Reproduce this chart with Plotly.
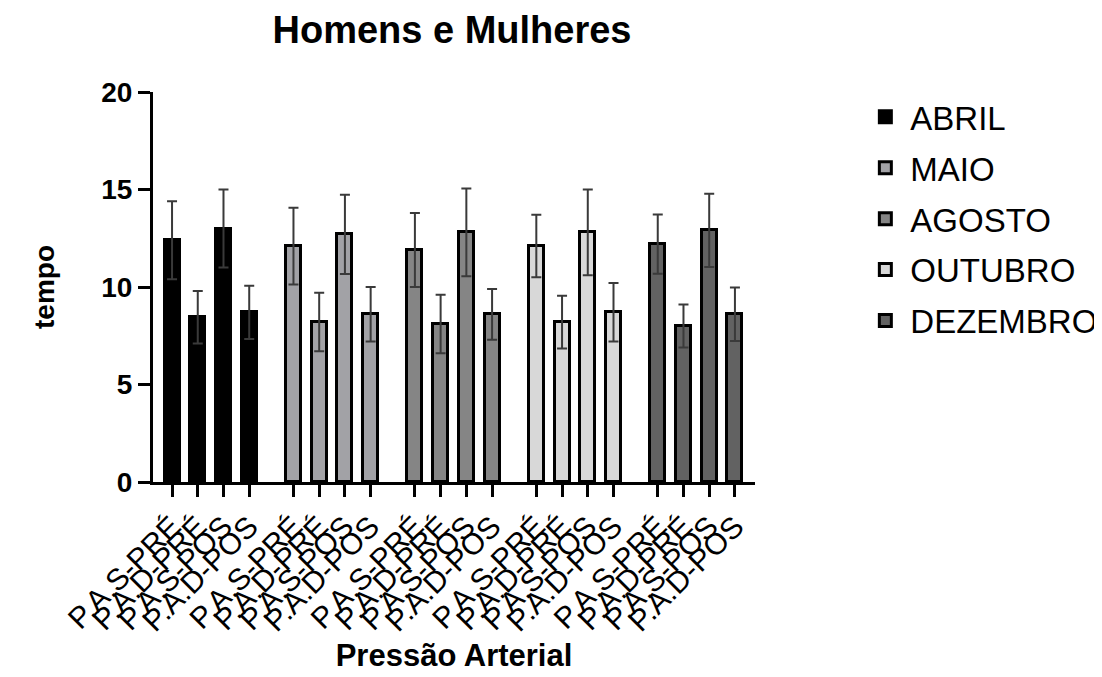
import plotly.graph_objects as go

categories = ["P.A.S-PRÉ", "P.A.D-PRÉ", "P.A.S-POS", "P.A.D-POS"]
months = ["ABRIL", "MAIO", "AGOSTO", "OUTUBRO", "DEZEMBRO"]

abril = [12.4, 8.45, 13.0, 8.7]
abril_err = [2.0, 1.35, 2.0, 1.37]
maio = [12.1, 8.2, 12.7, 8.6]
maio_err = [1.97, 1.5, 2.03, 1.4]
agosto = [11.9, 8.1, 12.8, 8.6]
agosto_err = [1.9, 1.5, 2.25, 1.3]
outubro = [12.1, 8.2, 12.8, 8.7]
outubro_err = [1.6, 1.35, 2.2, 1.5]
dezembro = [12.2, 8.0, 12.9, 8.6]
dezembro_err = [1.52, 1.1, 1.88, 1.37]

values = [abril, maio, agosto, outubro, dezembro]
errors = [abril_err, maio_err, agosto_err, outubro_err, dezembro_err]
fills = ["#000000", "#a2a2a6", "#858585", "#d8d8d8", "#626262"]

FONT = "Liberation Sans, Arial, sans-serif"
group_step = 4.72
n = len(categories)

fig = go.Figure()
tickvals, ticktext = [], []
for g, (m, vals, errs, col) in enumerate(zip(months, values, errors, fills)):
    xs = [g * group_step + i for i in range(n)]
    tickvals += xs
    ticktext += categories
    fig.add_trace(go.Bar(
        x=xs, y=vals, name=m, width=0.58,
        marker=dict(color=col, line=dict(color="black", width=3)),
        error_y=dict(type="data", array=errs, visible=True, color="#3a3a3a",
                     thickness=2, width=5),
        legendgroup=m,
    ))

fig.update_layout(
    width=1102, height=677,
    paper_bgcolor="white", plot_bgcolor="white",
    margin=dict(l=145, r=355, t=84, b=203, autoexpand=False),
    font=dict(family=FONT, color="black"),
    title=dict(text="<b>Homens e Mulheres</b>", x=444 / 1102, xanchor="center",
               y=1 - 22 / 677, yanchor="middle", yref="container",
               font=dict(size=38, family=FONT, color="black")),
    showlegend=True,
    legend=dict(x=1.175, y=1.008, xanchor="left", yanchor="top",
                font=dict(size=33, family=FONT, color="black"),
                tracegroupgap=5, itemwidth=40, bgcolor="rgba(0,0,0,0)"),
    bargap=0,
)
fig.update_xaxes(
    range=[-0.74, (len(months) - 1) * group_step + n - 1 + 0.78],
    tickmode="array", tickvals=tickvals, ticktext=ticktext, tickangle=-45,
    tickfont=dict(size=30, family=FONT, color="black"),
    showline=True, linecolor="black", linewidth=3,
    ticks="outside", ticklen=12, tickwidth=3, tickcolor="black",
    showgrid=False, zeroline=False, automargin=False,
    title=dict(text="<b>Pressão Arterial</b>", font=dict(size=31, family=FONT, color="black"),
               standoff=8),
)
fig.update_yaxes(
    range=[0, 20], tickmode="linear", tick0=0, dtick=5,
    tickfont=dict(size=28, family=FONT, color="black", weight="bold"),
    showline=True, linecolor="black", linewidth=3,
    ticks="outside", ticklen=12, tickwidth=3, tickcolor="black",
    showgrid=False, zeroline=False, automargin=False,
    title=dict(text="<b>tempo</b>", font=dict(size=28, family=FONT, color="black"),
               standoff=39),
)

fig.write_html("out.html")
